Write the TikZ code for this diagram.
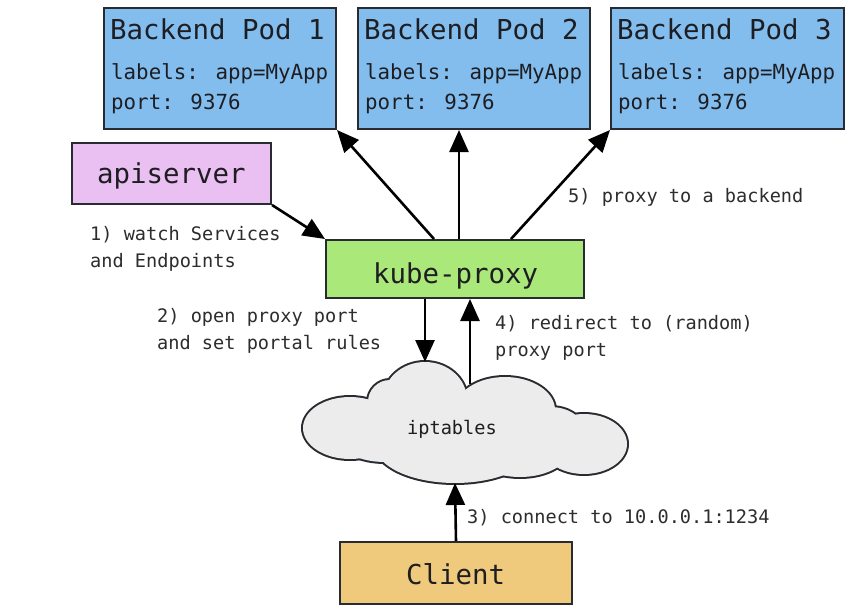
\documentclass[tikz,border=0pt]{standalone}
\usepackage{fontspec}
\setmainfont{DejaVu Sans Mono}
\usetikzlibrary{arrows.meta,calc}
\definecolor{podblue}{RGB}{130,189,238}
\definecolor{apipink}{RGB}{234,192,242}
\definecolor{kpgreen}{RGB}{170,232,122}
\definecolor{clientor}{RGB}{240,202,124}
\definecolor{cloudgray}{RGB}{236,236,236}
\definecolor{boxline}{RGB}{40,44,48}
\definecolor{txt}{RGB}{30,30,34}
\definecolor{lbl}{RGB}{45,45,45}
\begin{document}
\begin{tikzpicture}[x=1pt,y=-1pt,
  box/.style={draw=boxline, line width=2pt, inner sep=0pt, anchor=north west},
  big/.style={anchor=base west, inner sep=0pt, text=txt, font=\fontsize{27.4}{32}\selectfont},
  mid/.style={anchor=base west, inner sep=0pt, text=txt, font=\fontsize{20.8}{25}\selectfont},
  sml/.style={anchor=base west, inner sep=0pt, text=lbl, font=\fontsize{18.6}{22}\selectfont},
  arr/.style={-{Triangle[length=22pt,width=19pt]}, line width=2.6pt, draw=black}]
\useasboundingbox (0,0) rectangle (868,616);
\fill[white] (0,0) rectangle (868,616);

% backend pods
\node[box, fill=podblue, minimum width=232pt, minimum height=121pt] (pod1) at (103,7) {};
\node[box, fill=podblue, minimum width=232pt, minimum height=121pt] (pod2) at (357,7) {};
\node[box, fill=podblue, minimum width=233pt, minimum height=121pt] (pod3) at (610,7) {};
\node[big] (p1t) at (110,39) {Backend Pod 1};
\node[mid] (p1l) at (111,79) {labels: app=MyApp};
\node[mid] (p1p) at (111,109) {port: 9376};
\node[big] (p2t) at (364,39) {Backend Pod 2};
\node[mid] (p2l) at (365,79) {labels: app=MyApp};
\node[mid] (p2p) at (365,109) {port: 9376};
\node[big] (p3t) at (617,39) {Backend Pod 3};
\node[mid] (p3l) at (618,79) {labels: app=MyApp};
\node[mid] (p3p) at (618,109) {port: 9376};

% apiserver, kube-proxy, client
\node[box, fill=apipink, minimum width=199pt, minimum height=61pt] (api) at (71,142) {};
\node[big] (apit) at (97,183) {apiserver};
\node[box, fill=kpgreen, minimum width=258pt, minimum height=58pt] (kp) at (325,239) {};
\node[big] (kpt) at (373,283) {kube-proxy};
\node[box, fill=clientor, minimum width=232pt, minimum height=62pt] (client) at (339,541) {};
\node[big] (clt) at (406,584) {Client};

% cloud
\def\cloudparts{350/428/47/31, 390/402/22/22, 425/400/42/38, 505/410/50/33, 550/427/32/20, 584/444/43/30, 455/445/80/38, 520/448/50/29, 385/440/45/22}
\foreach \cx/\cy/\ra/\rb in \cloudparts
  \draw[draw=boxline, line width=4pt] (\cx,\cy) ellipse [x radius=\ra pt, y radius=\rb pt];
\foreach \cx/\cy/\ra/\rb in \cloudparts
  \fill[cloudgray] (\cx,\cy) ellipse [x radius=\ra pt, y radius=\rb pt];
\node[sml, text=txt] (ipt) at (407,434) {iptables};

% connector end points
\coordinate (kpA) at ($(kp.north west)+(109,0)$);
\coordinate (kpB) at ($(kp.north west)+(134,0)$);
\coordinate (kpC) at ($(kp.north west)+(186,0)$);
\coordinate (kpD) at ($(kp.south west)+(100,0)$);
\coordinate (cloudTop) at (425,362);
\coordinate (cloudUp) at (470,384);
\coordinate (cloudBot) at (455,483);

% connectors
\draw[arr] (api.south east) -- (kp.north west);
\draw[arr] (kpA) -- (pod1.south east);
\draw[arr] (kpB) -- (kpB |- pod2.south);
\draw[arr] (kpC) -- (pod3.south west);
\draw[arr] (kpD) -- (cloudTop);
\draw[arr] (cloudUp) -- (cloudUp |- kp.south);
\draw[arr] (client.north) -- (cloudBot);

% labels
\node[sml] (l1a) at (90,240) {1) watch Services};
\node[sml] (l1b) at (90,267) {and Endpoints};
\node[sml] (l2a) at (157,322) {2) open proxy port};
\node[sml] (l2b) at (157,349) {and set portal rules};
\node[sml] (l4a) at (495,329) {4) redirect to (random)};
\node[sml] (l4b) at (495,356) {proxy port};
\node[sml] (l5) at (568,202) {5) proxy to a backend};
\node[sml] (l3) at (467,523) {3) connect to 10.0.0.1:1234};
\end{tikzpicture}
\end{document}
